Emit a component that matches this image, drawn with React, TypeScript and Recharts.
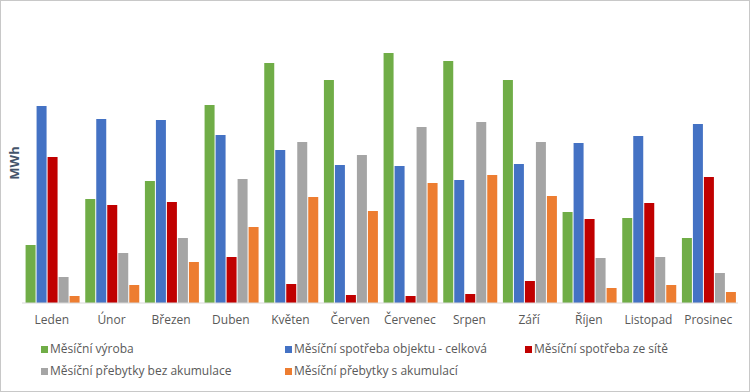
import React from 'react';
import { BarChart, Bar, XAxis, YAxis } from 'recharts';

const months = ['Leden', 'Únor', 'Březen', 'Duben', 'Květen', 'Červen', 'Červenec', 'Srpen', 'Září', 'Říjen', 'Listopad', 'Prosinec'];
const vyroba = [58, 104, 122, 198, 240, 223, 250, 242, 223, 91, 85, 65];
const spotrebaCelkova = [197, 184, 183, 168, 153, 138, 137, 123, 139, 160, 167, 179];
const spotrebaSit = [146, 98, 101, 46, 19, 8, 7, 9, 22, 84, 100, 126];
const prebytkyBez = [26, 50, 65, 124, 161, 148, 176, 181, 161, 45, 46, 30];
const prebytkyS = [7, 18, 41, 76, 106, 92, 120, 128, 107, 15, 18, 11];

const seriesNames = [
  'Měsíční výroba',
  'Měsíční spotřeba objektu - celková',
  'Měsíční spotřeba ze sítě',
  'Měsíční přebytky bez akumulace',
  'Měsíční přebytky s akumulací',
];
const seriesKeys = ['vyroba', 'celkova', 'sit', 'bez', 's'];
const colors = ['#70ad47', '#4472c4', '#c00000', '#a5a5a5', '#ed7d31'];

const data = months.map((m, i) => ({
  month: m,
  vyroba: vyroba[i],
  celkova: spotrebaCelkova[i],
  sit: spotrebaSit[i],
  bez: prebytkyBez[i],
  s: prebytkyS[i],
}));

const FONT = '"Liberation Sans Narrow", "Open Sans", sans-serif';

const legendPos = [
  { left: 40, top: 0 },
  { left: 284, top: 0 },
  { left: 524, top: 0 },
  { left: 40, top: 22 },
  { left: 284, top: 22 },
];

const LegendBox = () => (
  <div style={{ position: 'absolute', left: 0, top: 339, width: 750, height: 44, fontFamily: FONT, fontSize: 12, color: '#595959' }}>
    {seriesNames.map((n, i) => (
      <div key={n} style={{ position: 'absolute', left: legendPos[i].left, top: legendPos[i].top, display: 'flex', alignItems: 'center', whiteSpace: 'nowrap', lineHeight: '18px' }}>
        <span style={{ display: 'inline-block', width: 7, height: 7, background: colors[i], marginRight: 2 }} />
        <span>{n}</span>
      </div>
    ))}
  </div>
);

export default function App() {
  return (
    <div style={{ width: 750, height: 392, position: 'relative', boxSizing: 'border-box', border: '1px solid #c8c8c8', background: '#fff', overflow: 'hidden' }}>
      <style>{`body{margin:0}`}</style>
      <div style={{ position: 'absolute', left: -1, top: -1 }}>
        <BarChart
          width={750}
          height={392}
          data={data}
          margin={{ top: 23, right: 12, left: 0, bottom: 59 }}
          barCategoryGap="6%"
          barGap={1}
        >
          <XAxis
            dataKey="month"
            axisLine={{ stroke: '#d9d9d9' }}
            tickLine={false}
            height={30}
            tickMargin={6}
            interval={0}
            tick={{ fill: '#595959', fontSize: 12, fontFamily: FONT }}
          />
          <YAxis
            width={22}
            domain={[0, 280]}
            tick={false}
            axisLine={false}
            tickLine={false}
            label={{ value: 'MWh', angle: -90, position: 'insideLeft', offset: 14, style: { fill: '#44546a', fontSize: 13, fontWeight: 'bold', fontFamily: FONT, textAnchor: 'middle' } }}
          />
          {seriesKeys.map((k, i) => (
            <Bar key={k} dataKey={k} name={seriesNames[i]} fill={colors[i]} isAnimationActive={false} />
          ))}
        </BarChart>
      </div>
      <LegendBox />
    </div>
  );
}
